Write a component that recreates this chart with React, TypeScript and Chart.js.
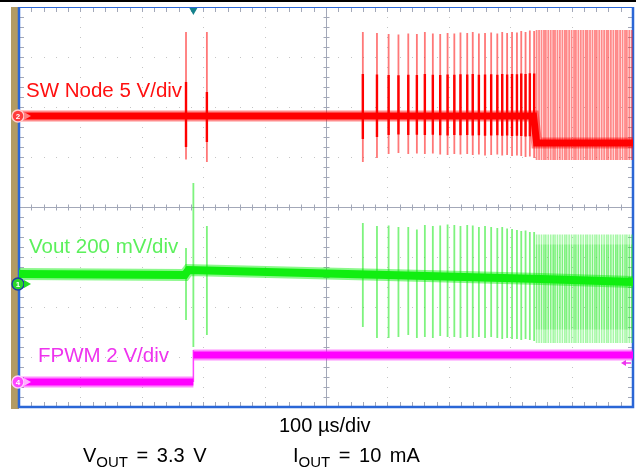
import React, { useEffect, useRef } from "react";
import { Chart, registerables } from "chart.js";
Chart.register(...registerables);

// time axis: 0..1000 µs (100 µs/div), vertical: -4..4 divisions
const startupTimes = [272, 306];
const startupRedTops = [3.5, 3.5];
const startupRedBottoms = [0.95, 0.9];
const startupRedRingTops = [2.5, 2.3];
const startupRedRingBottoms = [1.2, 1.3];

const voutStartTimes = [272, 284, 306];
const voutStartTops = [-0.82, 0.48, -0.38];
const voutStartBottoms = [-2.26, -2.8, -2.56];

const burstTimes = [560, 583, 602, 618, 634, 648, 661, 674, 686, 698, 709, 719, 730, 739, 749, 759, 769, 779, 787, 795, 803, 811, 818, 825, 832, 839];
const redBurstTops = [3.5, 3.48, 3.46, 3.45, 3.47, 3.46, 3.5, 3.47, 3.46, 3.48, 3.47, 3.49, 3.48, 3.5, 3.47, 3.48, 3.49, 3.47, 3.5, 3.48, 3.5, 3.49, 3.52, 3.5, 3.53, 3.52];
const redBurstBottoms = [0.9, 0.98, 1.06, 1.08, 1.06, 1.07, 1.06, 1.07, 1.05, 1.04, 1.06, 1.05, 1.06, 1.04, 1.05, 1.03, 1.04, 1.05, 1.03, 1.04, 1.02, 1.03, 1.02, 1.0, 1.01, 0.98];
const greenBurstTops = [-0.32, -0.38, -0.37, -0.4, -0.4, -0.45, -0.36, -0.38, -0.37, -0.35, -0.36, -0.38, -0.36, -0.37, -0.4, -0.38, -0.4, -0.42, -0.4, -0.43, -0.44, -0.46, -0.48, -0.47, -0.5, -0.5];
const greenBurstBottoms = [-2.4, -2.62, -2.62, -2.6, -2.56, -2.62, -2.6, -2.62, -2.58, -2.6, -2.6, -2.62, -2.6, -2.62, -2.6, -2.62, -2.6, -2.62, -2.64, -2.62, -2.64, -2.64, -2.66, -2.64, -2.66, -2.68];

const denseTimes = [843, 847, 851, 855, 858, 862, 866, 870, 873, 877, 881, 885, 889, 892, 896, 900, 904, 907, 911, 915, 919, 923, 926, 930, 934, 938, 941, 945, 949, 953, 957, 960, 964, 968, 972, 975, 979, 983, 987, 990, 994, 998];
const redDenseTop = 3.54;
const redDenseBottom = 0.94;
const greenDenseTop = -0.55;
const greenDenseBottom = -2.72;
const greenDenseCoreTop = -0.75;
const greenDenseCoreBottom = -2.45;

const redBaseTimes = [0, 838, 843, 1000];
const redBaseLevels = [1.82, 1.82, 1.28, 1.28];
const voutBaseTimes = [0, 270, 276, 600, 850, 1000];
const voutBaseLevels = [-1.34, -1.36, -1.26, -1.36, -1.44, -1.5];
const fpwmEdge = 284;
const fpwmLow = -3.5;
const fpwmHigh = -2.96;

const spikePts = (times: number[], tops: number[], bottoms: number[]) => {
  const pts: any[] = [];
  times.forEach((t, i) => {
    pts.push({ x: t, y: tops[i] }, { x: t, y: bottoms[i] }, { x: t, y: null });
  });
  return pts;
};
const linePts = (times: number[], levels: number[]) => times.map((t, i) => ({ x: t, y: levels[i] }));

const ds = (data: any[], color: string, width: number, order: number) => ({
  type: "line",
  data,
  borderColor: color,
  borderWidth: width,
  pointRadius: 0,
  fill: false,
  tension: 0,
  spanGaps: false,
  order,
});

const scopePlugin = {
  id: "scope",
  beforeDatasetsDraw(chart: any) {
    const { ctx, chartArea } = chart;
    const { left, right, top, bottom } = chartArea;
    const xd = (right - left) / 10;
    const yd = (bottom - top) / 8;
    ctx.save();
    ctx.fillStyle = "#ffffff";
    ctx.fillRect(0, 0, chart.width, chart.height);
    ctx.fillStyle = "#000000";
    ctx.fillRect(0, 0, chart.width, 2);
    ctx.fillStyle = "#b39b62";
    ctx.fillRect(11, top, left - 11, bottom - top + 2);
    ctx.fillStyle = "#c4c4c4";
    for (let i = 1; i < 10; i++) {
      if (i === 5) continue;
      const x = Math.round(left + i * xd);
      for (let j = 1; j < 40; j++) ctx.fillRect(x, Math.round(top + (j * yd) / 5), 1, 1);
    }
    for (let i = 1; i < 8; i++) {
      if (i === 4) continue;
      const y = Math.round(top + i * yd);
      for (let j = 1; j < 50; j++) ctx.fillRect(Math.round(left + (j * xd) / 5), y, 1, 1);
    }
    const cx = Math.round(left + 5 * xd) + 0.5;
    const cy = Math.round(top + 4 * yd) + 0.5;
    ctx.strokeStyle = "#a3a8b8";
    ctx.lineWidth = 1;
    ctx.beginPath();
    ctx.moveTo(left, cy); ctx.lineTo(right, cy);
    ctx.moveTo(cx, top); ctx.lineTo(cx, bottom);
    for (let j = 1; j < 50; j++) {
      const x = Math.round(left + (j * xd) / 5) + 0.5;
      ctx.moveTo(x, cy - 3); ctx.lineTo(x, cy + 3);
      ctx.moveTo(x, top); ctx.lineTo(x, top + 5);
      ctx.moveTo(x, bottom); ctx.lineTo(x, bottom - 5);
    }
    for (let j = 1; j < 40; j++) {
      const y = Math.round(top + (j * yd) / 5) + 0.5;
      ctx.moveTo(cx - 3, y); ctx.lineTo(cx + 3, y);
      ctx.moveTo(left, y); ctx.lineTo(left + 5, y);
      ctx.moveTo(right, y); ctx.lineTo(right - 5, y);
    }
    ctx.stroke();
    ctx.strokeStyle = "#2a66d6";
    ctx.lineWidth = 1;
    ctx.beginPath();
    ctx.moveTo(left, top + 0.5); ctx.lineTo(right, top + 0.5);
    ctx.stroke();
    ctx.lineWidth = 2.5;
    ctx.beginPath();
    ctx.moveTo(left, top); ctx.lineTo(left, bottom); ctx.lineTo(right, bottom); ctx.lineTo(right, top);
    ctx.stroke();
    ctx.restore();
  },
  afterDatasetsDraw(chart: any) {
    const { ctx, chartArea, scales } = chart;
    const { left, right, top } = chartArea;
    const ys = scales.y;
    ctx.save();
    ctx.font = "20.5px 'Liberation Sans', Arial, sans-serif";
    ctx.textBaseline = "alphabetic";
    ctx.fillStyle = "#ff1010";
    ctx.fillText("SW Node 5 V/div", 26, 97);
    ctx.fillStyle = "#5cf05c";
    ctx.fillText("Vout 200 mV/div", 29, 253);
    ctx.fillStyle = "#ee33ee";
    ctx.fillText("FPWM 2 V/div", 38, 362);

    const marker = (y: number, fill: string, stroke: string, label: string, arrow: string) => {
      ctx.beginPath();
      ctx.arc(left - 1, y, 6, 0, Math.PI * 2);
      ctx.fillStyle = fill;
      ctx.fill();
      ctx.lineWidth = 1.5;
      ctx.strokeStyle = stroke;
      ctx.stroke();
      ctx.fillStyle = "#ffffff";
      ctx.font = "bold 8px 'Liberation Sans', Arial";
      ctx.textAlign = "center";
      ctx.textBaseline = "middle";
      ctx.fillText(label, left - 1, y + 0.5);
      ctx.fillStyle = arrow;
      ctx.beginPath();
      ctx.moveTo(left + 5, y - 4); ctx.lineTo(left + 12, y); ctx.lineTo(left + 5, y + 4);
      ctx.closePath();
      ctx.fill();
    };
    marker(ys.getPixelForValue(1.82), "#ff3b3b", "#ffd0d0", "2", "#ff8080");
    marker(ys.getPixelForValue(-1.54), "#2bd62b", "#1a3fa0", "1", "#22dd22");
    marker(ys.getPixelForValue(-3.5), "#ff44ff", "#ffd0ff", "4", "#ffb0ff");

    const tx = scales.x.getPixelForValue(fpwmEdge);
    ctx.fillStyle = "#14828c";
    ctx.beginPath();
    ctx.moveTo(tx - 4, top + 1); ctx.lineTo(tx + 4, top + 1); ctx.lineTo(tx, top + 8);
    ctx.closePath();
    ctx.fill();
    const ty = ys.getPixelForValue(-3.12);
    ctx.fillStyle = "#ee33ee";
    ctx.strokeStyle = "#ee33ee";
    ctx.lineWidth = 1.5;
    ctx.beginPath();
    ctx.moveTo(right - 12, ty); ctx.lineTo(right - 7, ty - 3); ctx.lineTo(right - 7, ty + 3);
    ctx.closePath();
    ctx.fill();
    ctx.beginPath();
    ctx.moveTo(right - 8, ty); ctx.lineTo(right - 2, ty);
    ctx.stroke();
    ctx.restore();
  },
};

export default function App() {
  const ref = useRef<HTMLCanvasElement>(null);
  useEffect(() => {
    if (!ref.current) return;
    const lightRed = "rgba(255,30,30,0.6)";
    const lightGreen = "rgba(40,235,40,0.6)";
    const denseTopsR = denseTimes.map(() => redDenseTop);
    const denseBotsR = denseTimes.map(() => redDenseBottom);
    const denseTopsG = denseTimes.map(() => greenDenseTop);
    const denseBotsG = denseTimes.map(() => greenDenseBottom);
    const coreTopsG = denseTimes.map(() => greenDenseCoreTop);
    const coreBotsG = denseTimes.map(() => greenDenseCoreBottom);
    const ringTops = burstTimes.map((_, i) => 1.82 + (redBurstTops[i] - 1.82) * 0.5);
    const ringBots = burstTimes.map((_, i) => 1.82 - (1.82 - redBurstBottoms[i]) * 0.5);
    const chart = new Chart(ref.current, {
      type: "line",
      data: {
        datasets: [
          ds(spikePts(startupTimes, startupRedTops, startupRedBottoms), lightRed, 1.8, 20),
          ds(spikePts(burstTimes, redBurstTops, redBurstBottoms), lightRed, 1.8, 20),
          ds(spikePts(denseTimes, denseTopsR, denseBotsR), "rgba(255,40,40,0.55)", 1.8, 20),
          ds(spikePts(startupTimes, startupRedRingTops, startupRedRingBottoms), "#ff0000", 2.4, 15),
          ds(spikePts(burstTimes, ringTops, ringBots), "#ff0000", 2.4, 15),
          ds(linePts(redBaseTimes, redBaseLevels), "rgba(255,0,0,0.45)", 11, 12),
          ds(linePts(redBaseTimes, redBaseLevels), "#ff0000", 7, 10),
          ds(spikePts(voutStartTimes, voutStartTops, voutStartBottoms), lightGreen, 1.8, 20),
          ds(spikePts(burstTimes, greenBurstTops, greenBurstBottoms), lightGreen, 1.8, 20),
          ds(spikePts(denseTimes, denseTopsG, denseBotsG), "rgba(60,240,60,0.45)", 1.6, 20),
          ds(spikePts(denseTimes, coreTopsG, coreBotsG), "rgba(30,230,30,0.3)", 1.6, 19),
          ds(linePts(voutBaseTimes, voutBaseLevels), "rgba(0,240,0,0.45)", 12, 12),
          ds(linePts(voutBaseTimes, voutBaseLevels), "#11ee11", 8, 10),
          ds(linePts([0, fpwmEdge], [fpwmLow, fpwmLow]), "rgba(255,0,255,0.45)", 11, 12),
          ds(linePts([fpwmEdge, 1000], [fpwmHigh, fpwmHigh]), "rgba(255,0,255,0.45)", 11, 12),
          ds(linePts([0, fpwmEdge], [fpwmLow, fpwmLow]), "#ff00ff", 7, 10),
          ds(linePts([fpwmEdge, 1000], [fpwmHigh, fpwmHigh]), "#ff00ff", 7, 10),
          ds(linePts([fpwmEdge, fpwmEdge], [fpwmLow, fpwmHigh + 0.1]), "#ff44ff", 1.5, 10),
        ] as any,
      },
      options: {
        animation: false,
        responsive: false,
        maintainAspectRatio: false,
        devicePixelRatio: 1,
        layout: { padding: { left: 19, right: 3, top: 7, bottom: 62 } },
        plugins: { legend: { display: false }, tooltip: { enabled: false } },
        scales: {
          x: { type: "linear", min: 0, max: 1000, display: false },
          y: { type: "linear", min: -4, max: 4, display: false },
        },
      },
      plugins: [scopePlugin],
    } as any);
    return () => chart.destroy();
  }, []);

  const txt: React.CSSProperties = {
    position: "absolute",
    fontFamily: "'Liberation Sans', Arial, sans-serif",
    fontSize: 20,
    lineHeight: "20px",
    color: "#000",
    whiteSpace: "nowrap",
  };
  const sub: React.CSSProperties = { fontSize: 15, verticalAlign: "-5px" };
  return (
    <div style={{ position: "absolute", left: 0, top: 0, width: 636, height: 469, background: "#fff" }}>
      <canvas ref={ref} width={636} height={469} style={{ display: "block" }} />
      <div style={{ ...txt, left: 279, top: 415 }}>100 µs/div</div>
      <div style={{ ...txt, left: 83, top: 445, wordSpacing: 3 }}>
        V<span style={sub}>OUT</span> = 3.3 V
      </div>
      <div style={{ ...txt, left: 293, top: 445, wordSpacing: 3 }}>
        I<span style={sub}>OUT</span> = 10 mA
      </div>
    </div>
  );
}
